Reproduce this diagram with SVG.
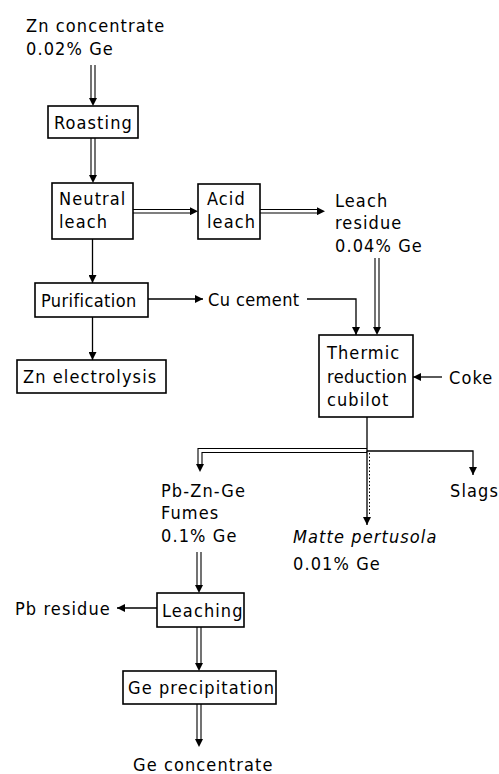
<svg xmlns="http://www.w3.org/2000/svg" width="499" height="774" viewBox="0 0 499 774">
<defs>
<style>
text{font-family:"DejaVu Sans Condensed","DejaVu Sans","Liberation Sans",sans-serif;font-stretch:condensed;font-size:18px;letter-spacing:1.1px;fill:#000}
text.tight{letter-spacing:0.4px}
.it{font-style:italic}
.box{fill:#fff;stroke:#000;stroke-width:1.6}
.ln{fill:none;stroke:#000;stroke-width:1.3}
.dl{fill:none;stroke:#000;stroke-width:1.1}
.tk{fill:none;stroke:#000;stroke-width:1;stroke-dasharray:1.5 2}
.hd{fill:none;stroke:none}
</style>
<marker id="ah" markerUnits="userSpaceOnUse" viewBox="0 0 10 10" refX="10" refY="5" markerWidth="9" markerHeight="8" orient="auto">
<path d="M0,0 L10,5 L0,10 z" fill="#000"/>
</marker>
</defs>
<rect width="499" height="774" fill="#fff"/>

<g id="connectors">
<path class="dl" d="M91,65 V100 M95,65 V100"/>
<path class="hd" d="M93,90 V106" marker-end="url(#ah)"/>
<path class="dl" d="M91,138 V177 M95,138 V177"/>
<path class="hd" d="M93,170 V183" marker-end="url(#ah)"/>
<path class="dl" d="M133,209.5 H192 M133,213 H192"/>
<path class="hd" d="M185,211.2 H198" marker-end="url(#ah)"/>
<path class="dl" d="M260,209.5 H319 M260,213 H319"/>
<path class="hd" d="M312,211.2 H325" marker-end="url(#ah)"/>
<path class="dl" d="M375,258 V329 M379,258 V329"/>
<path class="hd" d="M377,320 V335" marker-end="url(#ah)"/>
<path class="ln" d="M92.5,239 V283" marker-end="url(#ah)"/>
<path class="ln" d="M148,299 H203" marker-end="url(#ah)"/>
<path class="ln" d="M307,299 H356 V335" marker-end="url(#ah)"/>
<path class="ln" d="M92.5,317 V360" marker-end="url(#ah)"/>
<path class="ln" d="M442,377 H413" marker-end="url(#ah)"/>
<path class="ln" d="M367,417 V451 H473 V475" marker-end="url(#ah)"/>
<path class="dl" d="M367,448.5 H198 V466 M367,452.5 H202 V466"/>
<path class="hd" d="M200,460 V472" marker-end="url(#ah)"/>
<path class="ln" d="M367,451 V525" marker-end="url(#ah)"/>
<path class="tk" d="M369.5,453 V516"/>
<path class="dl" d="M197,552 V587 M201,552 V587"/>
<path class="hd" d="M199,580 V593" marker-end="url(#ah)"/>
<path class="ln" d="M157,608 H117" marker-end="url(#ah)"/>
<path class="dl" d="M197,627 V665 M201,627 V665"/>
<path class="hd" d="M199,658 V671" marker-end="url(#ah)"/>
<path class="dl" d="M197,704 V741 M201,704 V741"/>
<path class="hd" d="M199,734 V747" marker-end="url(#ah)"/>
</g>

<g id="zn-concentrate">
<text x="26" y="32">Zn concentrate</text>
<text x="26" y="55">0.02% Ge</text>
</g>
<g id="roasting">
<rect class="box" x="48" y="106" width="90" height="32"/>
<text x="54" y="129">Roasting</text>
</g>
<g id="neutral-leach">
<rect class="box" x="52" y="183" width="81" height="56"/>
<text x="59" y="205">Neutral</text>
<text x="59" y="228">leach</text>
</g>
<g id="acid-leach">
<rect class="box" x="198" y="184" width="62" height="55"/>
<text x="207" y="205">Acid</text>
<text x="207" y="228">leach</text>
</g>
<g id="leach-residue">
<text x="335" y="207">Leach</text>
<text x="335" y="229">residue</text>
<text x="335" y="252">0.04% Ge</text>
</g>
<g id="purification">
<rect class="box" x="35" y="283" width="113" height="34"/>
<text class="tight" x="41" y="307">Purification</text>
</g>
<g id="cu-cement">
<text class="tight" x="208" y="306">Cu cement</text>
</g>
<g id="zn-electrolysis">
<rect class="box" x="17" y="360" width="149" height="33"/>
<text x="23" y="383">Zn electrolysis</text>
</g>
<g id="thermic">
<rect class="box" x="319" y="335" width="94" height="82"/>
<text x="327" y="359">Thermic</text>
<text class="tight" x="327" y="383">reduction</text>
<text x="327" y="406">cubilot</text>
</g>
<g id="coke">
<text x="449" y="384">Coke</text>
</g>
<g id="slags">
<text x="450" y="497">Slags</text>
</g>
<g id="fumes">
<text x="161" y="497">Pb-Zn-Ge</text>
<text x="161" y="519">Fumes</text>
<text x="161" y="542">0.1% Ge</text>
</g>
<g id="matte">
<text class="it" x="293" y="543">Matte pertusola</text>
<text x="293" y="570">0.01% Ge</text>
</g>
<g id="leaching">
<rect class="box" x="157" y="593" width="87" height="34"/>
<text x="162" y="617">Leaching</text>
</g>
<g id="pb-residue">
<text x="15" y="615">Pb residue</text>
</g>
<g id="ge-precipitation">
<rect class="box" x="123" y="671" width="153" height="33"/>
<text x="128" y="694">Ge precipitation</text>
</g>
<g id="ge-concentrate">
<text x="133" y="771">Ge concentrate</text>
</g>
</svg>
